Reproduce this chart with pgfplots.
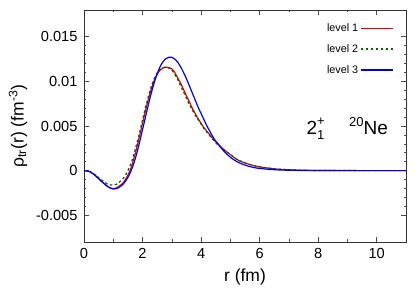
\documentclass[border=0pt]{standalone}
\usepackage{pgfplots}
\pgfplotsset{compat=1.18}
\usepackage{fontspec}
\setmainfont{Liberation Sans}
\definecolor{cred}{RGB}{225,0,0}
\definecolor{cgreen}{RGB}{0,100,0}
\definecolor{cblue}{RGB}{0,0,235}
\pgfplotstableread{
r v
0 0
0.2 -0.00012
0.4 -0.00058
0.6 -0.0012
0.8 -0.00175
0.9 -0.00195
1.0 -0.00202
1.1 -0.00195
1.2 -0.00175
1.3 -0.00150
1.4 -0.00108
1.5 -0.00050
1.6 0.00025
1.7 0.00130
1.8 0.00255
1.9 0.0039
2.0 0.0053
2.1 0.0067
2.2 0.0080
2.3 0.00915
2.4 0.0101
2.5 0.0108
2.6 0.01125
2.7 0.0115
2.8 0.0116
2.9 0.01155
3.0 0.0114
3.1 0.0110
3.2 0.0104
3.3 0.0098
3.4 0.0091
3.5 0.0084
3.6 0.0077
3.7 0.0070
3.8 0.0064
3.9 0.0058
4.0 0.0053
4.1 0.0048
4.2 0.0044
4.4 0.0036
4.6 0.0029
4.8 0.0023
5.0 0.0018
5.2 0.0013
5.4 0.00098
5.6 0.00074
5.8 0.00056
6.0 0.00042
6.5 0.0002
7.0 0.00009
7.5 0.00004
8.0 0.000015
9.0 0.000003
10.0 0
11.0 0
}\levelone
\pgfplotstableread{
r v
0 0
0.2 -0.00011
0.4 -0.00052
0.6 -0.00105
0.8 -0.0015
0.9 -0.0016
1.0 -0.00163
1.1 -0.00155
1.2 -0.00132
1.3 -0.00102
1.4 -0.0006
1.5 0.0000
1.6 0.00075
1.7 0.00180
1.8 0.00300
1.9 0.0043
2.0 0.0057
2.1 0.0071
2.2 0.00835
2.3 0.00945
2.4 0.01035
2.5 0.01095
2.6 0.01135
2.7 0.01155
2.8 0.0116
2.9 0.0115
3.0 0.01125
3.1 0.0108
3.2 0.0102
3.3 0.0095
3.4 0.0088
3.5 0.0081
3.6 0.0074
3.7 0.0068
3.8 0.0062
3.9 0.0057
4.0 0.0052
4.1 0.0047
4.2 0.0043
4.4 0.0035
4.6 0.0028
4.8 0.0023
5.0 0.0018
5.2 0.0013
5.4 0.00099
5.6 0.00075
5.8 0.00057
6.0 0.00043
6.5 0.0002
7.0 0.0001
7.5 0.00004
8.0 0.000015
9.0 0.000003
10.0 0
11.0 0
}\leveltwo
\pgfplotstableread{
r v
0 0
0.2 -0.00012
0.4 -0.0006
0.6 -0.00122
0.8 -0.00176
0.9 -0.00196
1.0 -0.00206
1.1 -0.00203
1.2 -0.00188
1.3 -0.00163
1.4 -0.00127
1.5 -0.00075
1.6 -0.0001
1.7 0.0008
1.8 0.0019
1.9 0.0032
2.0 0.0046
2.1 0.0060
2.2 0.0074
2.3 0.0087
2.4 0.00985
2.5 0.01085
2.6 0.01165
2.7 0.0122
2.8 0.01255
2.9 0.0127
3.0 0.0127
3.1 0.0125
3.2 0.01215
3.3 0.01165
3.4 0.0110
3.5 0.0103
3.6 0.0095
3.7 0.0087
3.8 0.0079
3.9 0.0071
4.0 0.0064
4.1 0.0057
4.2 0.0050
4.3 0.0044
4.4 0.0038
4.5 0.0033
4.6 0.0029
4.8 0.0021
5.0 0.0015
5.2 0.00105
5.4 0.00074
5.6 0.00051
5.8 0.00035
6.0 0.00024
6.5 0.0001
7.0 0.00004
7.5 0.000015
8.0 0.000005
9.0 0
11.0 0
}\levelthree
\begin{document}
\begin{tikzpicture}
\begin{axis}[name=ax, scale only axis, width=322pt, height=232pt,
  xmin=0, xmax=11, ymin=-0.008, ymax=0.018,
  scaled y ticks=false, scaled x ticks=false,
  xtick={0,2,4,6,8,10}, minor x tick num=1,
  ytick={-0.005,0,0.005,0.01,0.015},
  yticklabels={-0.005,0,0.005,0.01,0.015},
  minor y tick num=4,
  tick align=inside, major tick length=5pt, minor tick length=2.5pt,
  every tick/.style={black!70, line width=0.6pt},
  axis line style={black!80, line width=0.8pt},
  tick label style={font=\fontsize{14.6}{17}\selectfont},
  xticklabel style={yshift=-3pt},
  yticklabel style={xshift=-3pt},
  /pgf/number format/assume math mode=true,
  xlabel={r (fm)},
  ylabel={ρ\textsubscript{tr}(r) (fm\textsuperscript{-3})},
  label style={font=\fontsize{17.5}{20}\selectfont},
  x label style={at={(axis description cs:0.5,-0.15)}, anchor=center},
  y label style={at={(axis description cs:-0.205,0.5)}, anchor=center},
  legend style={draw=none, fill=none, inner sep=0pt,
    at={(axis description cs:0.962,0.951)}, anchor=north east,
    font=\fontsize{10.8}{12}\selectfont, row sep=7.5pt,
    /tikz/every even column/.append style={column sep=2pt}},
  legend cell align=right,
  legend plot pos=right,
  legend image code/.code={\draw[#1, line width=1.3pt] (0pt,0pt) -- (32pt,0pt);},
  clip=true,
]
\addplot[cred, line width=1.2pt, smooth] table[x=r,y=v] {\levelone};
\addlegendentry{level 1}
\addplot[cgreen, line width=1.2pt, dash pattern=on 2.5pt off 2.5pt, smooth] table[x=r,y=v] {\leveltwo};
\addlegendentry{level 2}
\addplot[cblue, line width=1.2pt, smooth] table[x=r,y=v] {\levelthree};
\addlegendentry{level 3}
\node[anchor=base west, font=\fontsize{19}{22}\selectfont, inner sep=0pt] at (axis cs:7.6,0.0040) {2\rlap{\raisebox{0.5em}{\fontsize{13}{15}\selectfont +}}\raisebox{-0.25em}{\fontsize{13}{15}\selectfont 1}};
\node[anchor=base west, font=\fontsize{19}{22}\selectfont, inner sep=0pt] at (axis cs:9.05,0.0040) {\raisebox{0.45em}{\fontsize{13}{15}\selectfont 20}Ne};
\end{axis}
\pgfresetboundingbox
\path ([shift={(-84pt,-49pt)}]ax.south west) rectangle ([shift={(9pt,10pt)}]ax.north east);
\end{tikzpicture}
\end{document}
